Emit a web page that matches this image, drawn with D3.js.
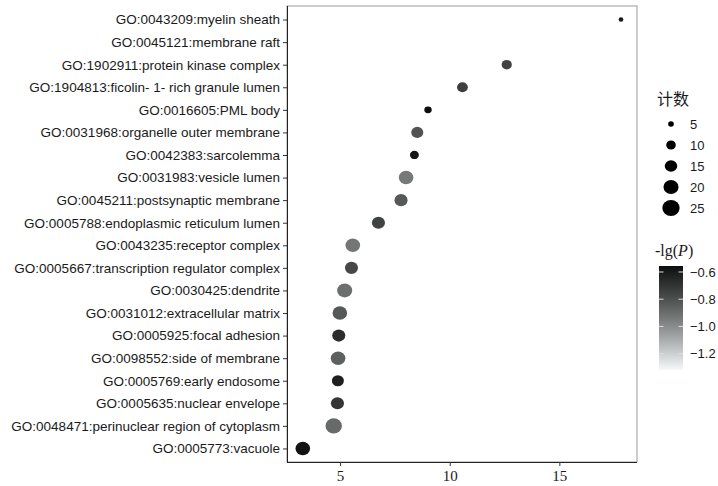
<!doctype html>
<html lang="en">
  <head>
    <meta charset="utf-8">
    <title>GO bubble chart</title>
    <style>
      body { margin: 0; background: #fff; }
      .ylab { font-family: "Liberation Sans", Arial, sans-serif; font-size: 13.5px; fill: #1a1a1a; }
      .xlab { font-family: "Liberation Serif", "Times New Roman", serif; font-size: 15px; fill: #1a1a1a; }
      .leg { font-family: "Liberation Sans", Arial, sans-serif; font-size: 13px; fill: #1a1a1a; }
    </style>
  </head>
  <body>
    <div id="chart"></div>

    <script src="https://d3js.org/d3.v7.min.js"></script>
    <script type="text/javascript">
      const w = 718;
      const h = 486;

      // data (top to bottom)
      const terms = [
        "GO:0043209:myelin sheath",
        "GO:0045121:membrane raft",
        "GO:1902911:protein kinase complex",
        "GO:1904813:ficolin- 1- rich granule lumen",
        "GO:0016605:PML body",
        "GO:0031968:organelle outer membrane",
        "GO:0042383:sarcolemma",
        "GO:0031983:vesicle lumen",
        "GO:0045211:postsynaptic membrane",
        "GO:0005788:endoplasmic reticulum lumen",
        "GO:0043235:receptor complex",
        "GO:0005667:transcription regulator complex",
        "GO:0030425:dendrite",
        "GO:0031012:extracellular matrix",
        "GO:0005925:focal adhesion",
        "GO:0098552:side of membrane",
        "GO:0005769:early endosome",
        "GO:0005635:nuclear envelope",
        "GO:0048471:perinuclear region of cytoplasm",
        "GO:0005773:vacuole"
      ];
      // membrane raft has no point drawn in the picture
      const enrich = [17.81, null, 12.60, 10.58, 9.01, 8.52, 8.39, 8.01, 7.78, 6.75,
                      5.58, 5.52, 5.21, 4.99, 4.94, 4.91, 4.90, 4.88, 4.71, 3.30];
      const counts = [4, null, 11, 12, 7, 14, 9, 19, 16, 16,
                      19, 16, 20, 19, 16, 19, 14, 16, 23, 19];
      const lgP = [-0.606, -1.32, -0.755, -0.739, -0.556, -0.813, -0.589, -0.938, -0.83, -0.755,
                   -0.93, -0.772, -0.905, -0.83, -0.672, -0.855, -0.62, -0.706, -0.888, -0.573];

      const xTicks = [5, 10, 15];
      const sizeBreaks = [5, 10, 15, 20, 25];
      const colorBreaks = [-0.6, -0.8, -1.0, -1.2];

      const data = terms.map((t, i) => ({ term: t, x: enrich[i], n: counts[i], p: lgP[i] }));

      // panel box
      const pLeft = 287, pRight = 637, pTop = 6, pBottom = 462;

      const svg = d3.select('#chart')
                    .append('svg')
                    .attr('width', w)
                    .attr('height', h);

      const x = d3.scaleLinear().domain([2.58, 18.54]).range([pLeft, pRight]);
      const y = d3.scalePoint().domain(terms).range([pTop, pBottom]).padding(0.6);
      const r = d3.scaleSqrt().domain([5, 25]).range([2.65, 8]);
      const colorDomain = d3.extent(lgP);
      const color = d3.scaleLinear()
                      .domain(colorDomain)
                      .range(['#f4f9f9', '#0d0d0d'])
                      .interpolate(d3.interpolateLab);

      // panel border (grey) then axis lines (black)
      svg.append('rect')
        .attr('x', pLeft).attr('y', pTop)
        .attr('width', pRight - pLeft).attr('height', pBottom - pTop)
        .attr('fill', 'white')
        .attr('stroke', '#9a9a9a');

      const yAxis = d3.axisLeft(y).tickSize(4).tickPadding(3);
      const gy = svg.append('g').attr('transform', `translate(${pLeft},0)`).call(yAxis);
      gy.select('.domain').attr('stroke', '#222').attr('d', `M0.5,${pTop}V${pBottom}`);
      gy.selectAll('.tick line').attr('stroke', '#333');
      gy.selectAll('.tick text').attr('class', 'ylab').attr('fill', null);
      gy.attr('font-size', null).attr('font-family', null);

      const xAxis = d3.axisBottom(x).tickValues(xTicks).tickSize(4).tickPadding(4);
      const gx = svg.append('g').attr('transform', `translate(0,${pBottom})`).call(xAxis);
      gx.select('.domain').attr('stroke', '#222').attr('d', `M${pLeft},0.5H${pRight}`);
      gx.selectAll('.tick line').attr('stroke', '#333');
      gx.selectAll('.tick text').attr('class', 'xlab').attr('fill', null);
      gx.attr('font-size', null).attr('font-family', null);

      svg.append('g')
        .selectAll('ellipse')
        .data(data.filter(d => d.x != null))
        .enter()
        .append('ellipse')
        .attr('cx', d => x(d.x))
        .attr('cy', d => y(d.term))
        .attr('rx', d => r(d.n) * 1.08)
        .attr('ry', d => r(d.n))
        .attr('fill', d => color(d.p));

      // size legend
      svg.append('text')
        .attr('x', 657).attr('y', 105)
        .attr('font-family', '"Noto Sans CJK SC", sans-serif')
        .attr('font-size', 16)
        .attr('fill', '#1a1a1a')
        .text('计数');

      const sl = svg.append('g');
      sl.selectAll('ellipse')
        .data(sizeBreaks)
        .enter()
        .append('ellipse')
        .attr('cx', 671)
        .attr('cy', (d, i) => 124 + i * 21)
        .attr('rx', d => r(d) * 1.08)
        .attr('ry', d => r(d))
        .attr('fill', '#000');
      sl.selectAll('text')
        .data(sizeBreaks)
        .enter()
        .append('text')
        .attr('class', 'leg')
        .attr('x', 690)
        .attr('y', (d, i) => 124 + i * 21)
        .attr('dy', '0.35em')
        .text(d => d);

      // colour legend
      const ct = svg.append('text')
        .attr('x', 655).attr('y', 256)
        .attr('font-family', '"Liberation Serif", serif')
        .attr('font-size', 16)
        .attr('fill', '#1a1a1a');
      ct.append('tspan').text('-lg(');
      ct.append('tspan').attr('font-style', 'italic').text('P');
      ct.append('tspan').text(')');

      const grad = svg.append('defs').append('linearGradient')
        .attr('id', 'pgrad')
        .attr('x1', 0).attr('y1', 1).attr('x2', 0).attr('y2', 0);
      d3.range(0, 1.0001, 0.1).forEach(t => {
        grad.append('stop')
          .attr('offset', t)
          .attr('stop-color', color(colorDomain[0] + t * (colorDomain[1] - colorDomain[0])));
      });

      const barX = 659, barW = 24;
      const cy = d3.scaleLinear().domain(colorDomain).range([370, 266]);
      svg.append('rect')
        .attr('x', barX).attr('y', cy(colorDomain[1]))
        .attr('width', barW).attr('height', cy(colorDomain[0]) - cy(colorDomain[1]))
        .attr('fill', 'url(#pgrad)');

      const cl = svg.append('g');
      colorBreaks.forEach(v => {
        cl.append('line').attr('x1', barX).attr('x2', barX + 4.5)
          .attr('y1', cy(v)).attr('y2', cy(v)).attr('stroke', '#ddd');
        cl.append('line').attr('x1', barX + barW - 4.5).attr('x2', barX + barW)
          .attr('y1', cy(v)).attr('y2', cy(v)).attr('stroke', '#ddd');
        cl.append('text')
          .attr('class', 'leg')
          .attr('x', 690)
          .attr('y', cy(v))
          .attr('dy', '0.35em')
          .text(d3.format('.1f')(v));
      });
    </script>
  </body>
</html>
